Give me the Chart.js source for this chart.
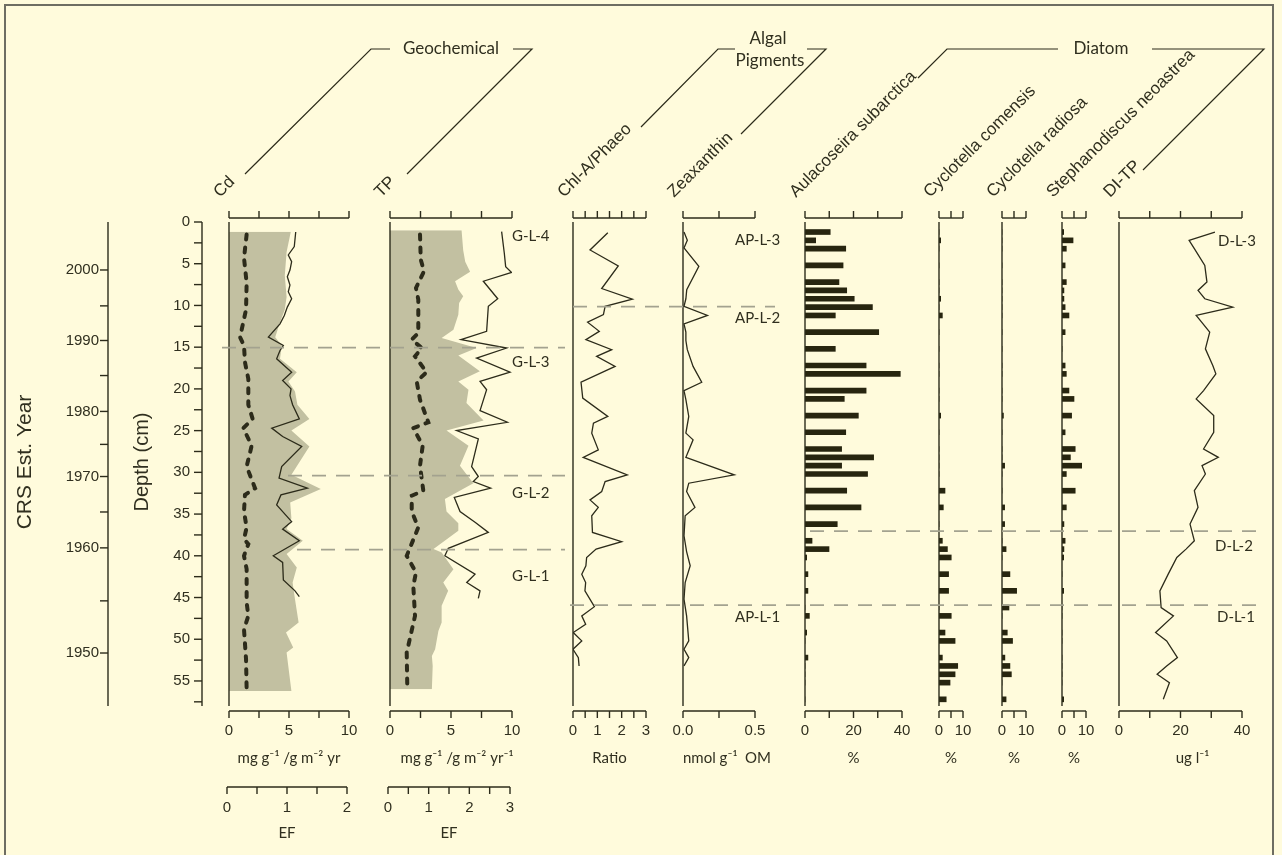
<!DOCTYPE html>
<html>
<head>
<meta charset="utf-8">
<title>Core stratigraphy</title>
<script src="https://cdn.jsdelivr.net/npm/chart.js@4.4.1/dist/chart.umd.min.js"></script>
<style>
  html, body { margin: 0; padding: 0; background: #fffbdc; }
  #page { position: relative; width: 1282px; height: 855px; overflow: hidden; background: #fffbdc; }
  #page canvas { position: absolute; left: 0; top: 0; }
  #border { position: absolute; left: 4px; top: 4px; width: 1270px; height: 880px; border: 2px solid #6e6d62; box-sizing: border-box; }
</style>
</head>
<body>
<div id="page">
  <div id="border"></div>
  <canvas id="cd" width="1282" height="855"></canvas>
  <canvas id="tp" width="1282" height="855"></canvas>
  <canvas id="chl" width="1282" height="855"></canvas>
  <canvas id="zea" width="1282" height="855"></canvas>
  <canvas id="aul" width="1282" height="855"></canvas>
  <canvas id="com" width="1282" height="855"></canvas>
  <canvas id="rad" width="1282" height="855"></canvas>
  <canvas id="ste" width="1282" height="855"></canvas>
  <canvas id="ditp" width="1282" height="855"></canvas>
  <canvas id="frame" width="1282" height="855"></canvas>
</div>
<script>
// ---- depth / age axes ----
const depthTicks = [0, 2.5, 5, 7.5, 10, 12.5, 15, 17.5, 20, 22.5, 25, 27.5, 30, 32.5, 35, 37.5, 40, 42.5, 45, 47.5, 50, 52.5, 55, 57.5];
const depthLabels = [0, 5, 10, 15, 20, 25, 30, 35, 40, 45, 50, 55];
const yearLabels = ['2000', '1990', '1980', '1970', '1960', '1950'];
const yearLabelDepths = [5.75, 14.2, 22.7, 30.5, 39.05, 51.65];
const yearMinorDepths = [10.05, 18.4, 26.65, 34.75, 45.4];

// ---- geochemical ----
const cdDepth = [1.2, 2.95, 3.95, 4.75, 5.76, 6.56, 7.56, 8.36, 9.2, 10.2, 11.2, 12.2, 13.8, 14.8, 15.4, 16.4, 18.0, 19.0, 20.0, 20.8, 21.9, 23.6, 24.7, 25.7, 26.9, 29.3, 30.7, 31.9, 32.7, 33.9, 35.9, 36.8, 38.2, 40.0, 40.8, 42.9, 44.2, 44.9];
const cdConc = [5.56, 5.44, 4.94, 5.22, 5.08, 4.86, 5.08, 4.94, 5.22, 4.86, 4.61, 4.25, 3.28, 4.53, 4.25, 3.97, 5.22, 4.47, 5.17, 5.08, 5.30, 5.86, 3.56, 4.47, 6.06, 4.39, 4.17, 6.53, 4.33, 3.97, 5.22, 4.47, 5.86, 3.69, 4.47, 4.53, 5.50, 5.86];
const cdEfDepth = [1.16, 3.6, 6.4, 9.0, 10.5, 12.0, 13.8, 14.8, 16.4, 18.0, 19.1, 20.3, 21.9, 23.6, 25.0, 26.9, 30.3, 32.0, 33.6, 35.5, 36.8, 38.2, 39.8, 41.4, 43.2, 45.2, 48.0, 49.2, 51.0, 51.6, 56.2];
const cdEf = [1.03, 0.96, 0.93, 0.96, 0.93, 0.85, 0.77, 0.88, 0.85, 1.13, 0.99, 1.10, 1.14, 1.34, 1.04, 1.34, 1.04, 1.53, 1.02, 1.04, 0.96, 1.23, 0.96, 1.13, 1.06, 1.10, 1.16, 0.95, 1.07, 0.96, 1.04];
const cdFluxDepth = [1.5, 4.3, 7.3, 10.5, 13.8, 14.8, 16.8, 18.8, 21.9, 23.6, 24.7, 26.8, 29.3, 31.9, 32.7, 34.7, 36.6, 38.0, 38.6, 40.0, 41.6, 45.6, 47.2, 48.8, 52.4, 56.0];
const cdFlux = [1.47, 1.25, 1.47, 1.42, 0.92, 1.25, 1.33, 1.61, 1.61, 1.97, 1.19, 1.89, 1.47, 2.17, 1.33, 1.25, 1.47, 1.25, 1.61, 1.25, 1.47, 1.47, 1.61, 1.25, 1.42, 1.47];

const tpDepth = [1.16, 3.75, 5.35, 6.05, 7.1, 9.2, 10.1, 13.1, 14.1, 15.1, 16.3, 18.0, 19.1, 20.1, 22.6, 24.0, 25.0, 26.0, 29.3, 30.5, 31.1, 31.9, 33.0, 34.7, 36.0, 37.2, 39.1, 40.0, 42.2, 43.2, 44.2, 45.1];
const tpConc = [9.15, 9.37, 9.48, 9.97, 7.65, 8.83, 8.06, 7.92, 5.82, 9.56, 7.10, 9.84, 7.38, 7.92, 7.38, 9.62, 5.46, 7.24, 6.69, 7.24, 6.83, 8.25, 5.27, 5.74, 7.0, 8.06, 4.78, 4.50, 6.97, 6.29, 7.38, 7.24];
const tpEfDepth = [1.0, 3.4, 4.75, 5.95, 7.1, 8.1, 8.9, 9.7, 11.1, 12.9, 13.9, 15.1, 16.0, 17.9, 19.1, 20.1, 21.7, 23.8, 25.0, 26.8, 29.2, 31.3, 33.2, 34.7, 36.1, 37.0, 39.2, 39.6, 41.6, 43.2, 44.2, 46.0, 48.0, 49.0, 51.2, 52.0, 53.2, 56.0];
const tpEf = [1.76, 1.80, 1.85, 1.97, 1.60, 1.68, 1.80, 1.70, 1.68, 1.56, 1.27, 2.13, 1.68, 2.21, 1.68, 1.93, 1.88, 2.30, 1.39, 1.93, 1.72, 2.05, 1.35, 1.39, 1.68, 1.68, 1.07, 1.27, 1.56, 1.31, 1.43, 1.27, 1.27, 1.19, 1.11, 1.03, 1.05, 1.03];
const tpFluxDepth = [1.5, 4.5, 5.9, 7.9, 9.3, 13.3, 14.1, 15.1, 16.1, 18.0, 19.1, 21.3, 24.0, 24.7, 26.8, 29.2, 32.2, 32.8, 34.7, 36.6, 40.0, 42.0, 43.6, 47.2, 51.6, 56.0];
const tpFlux = [2.46, 2.52, 2.79, 2.13, 2.32, 2.32, 1.78, 2.60, 2.05, 3.00, 2.19, 2.46, 3.14, 1.91, 2.68, 2.46, 2.73, 1.78, 1.78, 2.32, 1.37, 2.13, 1.91, 2.05, 1.37, 1.42];

// ---- algal pigments ----
const chlDepth = [1.28, 3.35, 5.26, 7.97, 9.25, 10.1, 11.1, 12.0, 13.1, 14.1, 15.3, 16.1, 17.3, 19.2, 21.1, 23.3, 24.1, 25.3, 27.3, 28.2, 30.3, 31.1, 32.3, 33.3, 34.2, 35.2, 37.2, 38.3, 39.2, 40.2, 41.2, 42.2, 43.2, 44.2, 46.1, 47.2, 48.2, 49.2, 50.2, 51.2, 52.2, 53.2];
const chlRatio = [1.43, 0.70, 1.86, 1.18, 2.44, 1.32, 1.25, 0.60, 1.08, 0.53, 1.59, 0.97, 1.73, 0.33, 0.40, 1.43, 0.84, 0.77, 1.04, 0.42, 2.23, 1.32, 1.18, 0.70, 1.04, 0.77, 0.80, 2.00, 0.95, 0.56, 0.53, 0.36, 0.52, 0.49, 0.88, 0.36, 0.52, 0.01, 0.36, 0.0, 0.22, 0.25];
const zeaDepth = [1.2, 2.2, 3.1, 5.3, 8.1, 9.2, 10.1, 11.2, 12.2, 13.2, 14.2, 15.3, 17.3, 19.2, 20.2, 21.3, 23.3, 25.3, 26.1, 28.2, 30.3, 31.3, 32.3, 34.2, 35.2, 37.6, 39.5, 41.2, 43.2, 45.2, 47.2, 50.2, 51.2, 52.2, 53.2];
const zeaxanthin = [0.007, 0.03, 0.007, 0.11, 0.026, 0.02, 0.007, 0.17, 0.007, 0.02, 0.02, 0.03, 0.07, 0.13, 0.007, 0.02, 0.04, 0.02, 0.07, 0.02, 0.356, 0.04, 0.025, 0.083, 0.015, 0.007, 0.025, 0.05, 0.015, 0.007, 0.025, 0.04, 0.007, 0.04, 0.007];

// ---- diatoms ----
const diatomDepth = [1.2, 2.2, 3.2, 5.2, 7.2, 8.2, 9.2, 10.2, 11.2, 13.2, 15.2, 17.2, 18.2, 20.2, 21.2, 23.2, 25.2, 27.2, 28.2, 29.2, 30.2, 32.2, 34.2, 36.2, 38.2, 39.2, 40.2, 42.2, 44.2, 46.2, 47.2, 49.2, 50.2, 52.2, 53.2, 54.2, 55.2, 57.2];
const aulacoseira = [10.4, 4.4, 16.8, 15.7, 14.0, 17.2, 20.3, 27.8, 12.5, 30.4, 12.5, 25.2, 39.3, 25.2, 16.2, 22.0, 16.8, 15.1, 28.3, 15.1, 25.8, 17.2, 23.1, 13.3, 2.9, 9.9, 0.7, 1.2, 1.2, 0, 1.8, 0.7, 0, 1.2, 0, 0, 0, 0];
const comensis = [0, 0.7, 0, 0, 0, 0, 0.7, 0, 1.4, 0, 0, 0, 0, 0, 0, 0.7, 0, 0, 0, 0, 0, 2.5, 1.8, 0, 1.4, 3.5, 5.1, 4.0, 4.0, 0, 5.1, 2.5, 6.7, 1.4, 7.8, 6.7, 4.6, 3.0];
const radiosa = [0, 0, 0, 0, 0, 0, 0, 0, 0, 0, 0, 0, 0, 0, 0, 0.6, 0, 0, 0, 1.1, 0, 0, 1.1, 1.1, 0, 1.7, 0, 3.3, 6.1, 2.9, 0, 2.2, 4.4, 1.2, 3.3, 3.9, 0, 1.7];
const stephanodiscus = [0.7, 4.6, 1.8, 1.3, 1.8, 0.8, 0.8, 1.3, 2.9, 1.3, 0, 1.3, 1.8, 2.9, 5.0, 4.0, 1.3, 5.5, 3.5, 8.2, 1.8, 5.5, 1.8, 0.8, 1.3, 0.8, 0.7, 0, 0.7, 0, 0, 0, 0, 0, 0, 0, 0, 0.7];
const diTP = [31.2, 22.8, 24.5, 27.9, 28.6, 25.7, 27.9, 37.0, 25.1, 29.5, 28.1, 30.5, 31.5, 27.5, 25.1, 30.8, 30.8, 27.5, 32.3, 27.0, 28.1, 24.5, 25.7, 23.1, 24.5, 21.8, 18.8, 16.0, 13.3, 13.7, 17.7, 11.9, 15.5, 19.0, 15.5, 12.4, 16.4, 14.4];

// ---- zones ----
const zoneDepths = [15.05, 30.4, 39.25, 10.15, 45.9, 37.05];
const zoneNames = ['G-L-4', 'G-L-3', 'G-L-2', 'G-L-1', 'AP-L-3', 'AP-L-2', 'AP-L-1', 'D-L-3', 'D-L-2', 'D-L-1'];
const zoneNameDepths = [1.7, 16.8, 32.5, 42.5, 2.2, 11.5, 47.3, 2.3, 38.9, 47.3];

// ---- styling / layout ----
const W = 1282, H = 855, DEPTH_MAX = 58, PLOT_TOP = 222, PLOT_BOTTOM = 706;
const INK = '#2c2b1a', TXT = '#302f1f', GREY = '#c2c0a1', ZONE = '#a3a28f', BAR = '#27250f';
const NUM_FONT = '15px "Liberation Sans", Arial, sans-serif';
const SOFT_FONT = '15px Lato, "Liberation Sans", sans-serif';
const NAME_FONT = '17px "Liberation Sans", Arial, sans-serif';
const zoneSpans = [[222, 565], [288, 565], [297, 565], [573, 775], [570, 1262], [810, 1262]];
const zoneNameX = [512, 512, 512, 512, 735, 735, 735, 1218, 1215, 1217];

function pts(depths, values) {
  return depths.map((d, i) => ({ x: values[i], y: d }));
}

function seg(ctx, x1, y1, x2, y2) {
  ctx.beginPath();
  ctx.moveTo(x1, y1);
  ctx.lineTo(x2, y2);
  ctx.stroke();
}

// axes of one panel: top/bottom scale bars, numbers, unit, rotated name, optional EF bar
function stratAxes(spec) {
  return {
    id: 'stratAxes',
    afterDraw(chart) {
      const ctx = chart.ctx, xs = chart.scales.x, ys = chart.scales.y;
      const left = xs.getPixelForValue(spec.min), right = xs.getPixelForValue(spec.max);
      ctx.save();
      ctx.strokeStyle = INK;
      ctx.fillStyle = TXT;
      ctx.lineWidth = 1.4;
      seg(ctx, left, ys.getPixelForValue(0), left, ys.getPixelForValue(DEPTH_MAX));

      const yt = ys.top - 4;
      seg(ctx, left, yt, right, yt);
      spec.ticks.forEach(v => { const p = xs.getPixelForValue(v); seg(ctx, p, yt, p, yt - 7); });

      const yb = ys.bottom + 5;
      seg(ctx, left, yb, right, yb);
      spec.ticks.forEach(v => { const p = xs.getPixelForValue(v); seg(ctx, p, yb, p, yb + 7); });
      ctx.font = NUM_FONT;
      ctx.textAlign = 'center';
      ctx.textBaseline = 'middle';
      spec.labels.forEach((v, i) => {
        ctx.fillText(spec.labelText ? spec.labelText[i] : String(v), xs.getPixelForValue(v), yb + 20);
      });
      ctx.font = SOFT_FONT;
      ctx.fillText(spec.unit, (left + right) / 2 + (spec.unitShift || 0), yb + 47);

      if (spec.ef) {
        const es = chart.scales.xEF;
        const ye = yb + 76;
        const e0 = es.getPixelForValue(0) - 2, e1 = es.getPixelForValue(spec.ef.max) - 2;
        seg(ctx, e0, ye, e1, ye);
        spec.ef.ticks.forEach(v => { const p = es.getPixelForValue(v) - 2; seg(ctx, p, ye, p, ye + 7); });
        ctx.font = NUM_FONT;
        spec.ef.labels.forEach(v => ctx.fillText(String(v), es.getPixelForValue(v) - 2, ye + 21));
        ctx.font = SOFT_FONT;
        ctx.fillText('EF', (e0 + e1) / 2, ye + 46);
      }

      ctx.translate(left - 9, 198);
      ctx.rotate(-Math.PI / 4);
      ctx.font = NAME_FONT;
      ctx.textAlign = 'left';
      ctx.textBaseline = 'alphabetic';
      ctx.fillText(spec.name, 0, 0);
      ctx.restore();
    }
  };
}

function makePanel(id, type, spec, datasets) {
  const scales = {
    x: { type: 'linear', min: spec.min, max: spec.max, display: false },
    y: { type: 'linear', min: 0, max: DEPTH_MAX, reverse: true, offset: false, display: false }
  };
  if (spec.ef) {
    scales.xEF = { type: 'linear', axis: 'x', min: 0, max: spec.ef.max, display: false };
  }
  return new Chart(document.getElementById(id), {
    type: type,
    data: { datasets: datasets },
    options: {
      responsive: false,
      animation: false,
      events: [],
      devicePixelRatio: 1,
      indexAxis: 'y',
      layout: { padding: { left: spec.x0, right: W - spec.x1, top: PLOT_TOP, bottom: H - PLOT_BOTTOM } },
      elements: { point: { radius: 0 }, line: { tension: 0 } },
      plugins: { legend: { display: false }, tooltip: { enabled: false } },
      scales: scales
    },
    plugins: [stratAxes(spec)]
  });
}

function solid(depths, values) {
  return { data: pts(depths, values), borderColor: INK, borderWidth: 1.3, fill: false, order: 1 };
}
function dashed(depths, values) {
  return { data: pts(depths, values), borderColor: INK, borderWidth: 4, borderDash: [5, 8],
           borderCapStyle: 'round', fill: false, order: 0 };
}
function shade(depths, values) {
  return { data: pts(depths, values), xAxisID: 'xEF', borderWidth: 0, borderColor: GREY,
           backgroundColor: GREY, fill: 'origin', order: 2 };
}
function bars(values) {
  return { data: pts(diatomDepth, values), backgroundColor: BAR, barThickness: 5, borderWidth: 0 };
}

makePanel('cd', 'line', {
  name: 'Cd', x0: 229, x1: 349, min: 0, max: 10, ticks: [0, 2.5, 5, 7.5, 10], labels: [0, 5, 10],
  unit: 'mg g⁻¹ /g m⁻² yr', ef: { max: 2, ticks: [0, 0.5, 1, 1.5, 2], labels: [0, 1, 2] }
}, [shade(cdEfDepth, cdEf), solid(cdDepth, cdConc), dashed(cdFluxDepth, cdFlux)]);

makePanel('tp', 'line', {
  name: 'TP', x0: 390, x1: 512, min: 0, max: 10, ticks: [0, 2.5, 5, 7.5, 10], labels: [0, 5, 10],
  unit: 'mg g⁻¹ /g m⁻² yr⁻¹', unitShift: 6, ef: { max: 3, ticks: [0, 0.5, 1, 1.5, 2, 2.5, 3], labels: [0, 1, 2, 3] }
}, [shade(tpEfDepth, tpEf), solid(tpDepth, tpConc), dashed(tpFluxDepth, tpFlux)]);

makePanel('chl', 'line', {
  name: 'Chl-A/Phaeo', x0: 573, x1: 646, min: 0, max: 3, ticks: [0, 0.5, 1, 1.5, 2, 2.5, 3], labels: [0, 1, 2, 3],
  unit: 'Ratio'
}, [solid(chlDepth, chlRatio)]);

makePanel('zea', 'line', {
  name: 'Zeaxanthin', x0: 683, x1: 755, min: 0, max: 0.5, ticks: [0, 0.25, 0.5], labels: [0, 0.5],
  labelText: ['0.0', '0.5'], unit: 'nmol g⁻¹  OM', unitShift: 8
}, [solid(zeaDepth, zeaxanthin)]);

makePanel('aul', 'bar', {
  name: 'Aulacoseira subarctica', x0: 805, x1: 902, min: 0, max: 40, ticks: [0, 10, 20, 30, 40], labels: [0, 20, 40],
  unit: '%'
}, [bars(aulacoseira)]);

makePanel('com', 'bar', {
  name: 'Cyclotella comensis', x0: 939, x1: 963, min: 0, max: 10, ticks: [0, 5, 10], labels: [0, 10], unit: '%'
}, [bars(comensis)]);

makePanel('rad', 'bar', {
  name: 'Cyclotella radiosa', x0: 1002, x1: 1026, min: 0, max: 10, ticks: [0, 5, 10], labels: [0, 10], unit: '%'
}, [bars(radiosa)]);

makePanel('ste', 'bar', {
  name: 'Stephanodiscus neoastrea', x0: 1062, x1: 1086, min: 0, max: 10, ticks: [0, 5, 10], labels: [0, 10], unit: '%'
}, [bars(stephanodiscus)]);

makePanel('ditp', 'line', {
  name: 'DI-TP', x0: 1119, x1: 1242, min: 0, max: 40, ticks: [0, 10, 20, 30, 40], labels: [0, 20, 40],
  unit: 'ug l⁻¹', unitShift: 12
}, [solid(diatomDepth, diTP)]);

// frame: depth + CRS year axes, group headers, zone boundaries
const framePlugin = {
  id: 'frameDecor',
  afterDraw(chart) {
    const ctx = chart.ctx, ys = chart.scales.y;
    ctx.save();
    ctx.strokeStyle = INK;
    ctx.fillStyle = TXT;
    ctx.lineWidth = 1.4;

    // depth axis
    const dx = 202;
    seg(ctx, dx, ys.getPixelForValue(0), dx, ys.getPixelForValue(DEPTH_MAX));
    depthTicks.forEach(d => { const p = ys.getPixelForValue(d); seg(ctx, dx - 8, p, dx, p); });
    ctx.font = NUM_FONT;
    ctx.textAlign = 'right';
    ctx.textBaseline = 'middle';
    depthLabels.forEach(d => ctx.fillText(String(d), dx - 12, ys.getPixelForValue(d)));

    // CRS year axis
    const yx = 108;
    seg(ctx, yx, ys.getPixelForValue(0), yx, ys.getPixelForValue(DEPTH_MAX));
    yearLabelDepths.forEach((d, i) => {
      const p = ys.getPixelForValue(d);
      seg(ctx, yx - 8, p, yx, p);
      ctx.fillText(yearLabels[i], yx - 9, p);
    });
    yearMinorDepths.forEach(d => { const p = ys.getPixelForValue(d); seg(ctx, yx - 8, p, yx, p); });

    // axis titles
    ctx.textAlign = 'center';
    ctx.save();
    ctx.translate(25, 462);
    ctx.rotate(-Math.PI / 2);
    ctx.font = '21px "Liberation Sans", Arial, sans-serif';
    ctx.fillText('CRS Est. Year', 0, 0);
    ctx.restore();
    ctx.save();
    ctx.translate(142, 462);
    ctx.rotate(-Math.PI / 2);
    ctx.font = '20px "Liberation Sans", Arial, sans-serif';
    ctx.fillText('Depth (cm)', 0, 0);
    ctx.restore();

    // group headers
    ctx.font = '17px Lato, "Liberation Sans", sans-serif';
    ctx.fillText('Geochemical', 451, 49);
    ctx.fillText('Algal', 768, 39);
    ctx.fillText('Pigments', 770, 61);
    ctx.fillText('Diatom', 1101, 49);
    ctx.lineWidth = 1.2;
    const brackets = [
      [[245, 174], [371, 49], [390, 49]],
      [[513, 49], [532, 49], [407, 174]],
      [[641, 127], [718, 49], [735, 49]],
      [[807, 49], [826, 49], [741, 134]],
      [[918, 78], [947, 49], [1058, 49]],
      [[1152, 49], [1264, 49], [1143, 170]]
    ];
    brackets.forEach(b => {
      ctx.beginPath();
      ctx.moveTo(b[0][0], b[0][1]);
      for (let i = 1; i < b.length; i++) ctx.lineTo(b[i][0], b[i][1]);
      ctx.stroke();
    });

    // zone boundaries
    ctx.strokeStyle = ZONE;
    ctx.lineWidth = 1.7;
    ctx.setLineDash([14, 10]);
    zoneDepths.forEach((d, i) => {
      const p = ys.getPixelForValue(d);
      seg(ctx, zoneSpans[i][0], p, zoneSpans[i][1], p);
    });
    ctx.setLineDash([]);

    ctx.font = SOFT_FONT;
    ctx.textAlign = 'left';
    ctx.fillStyle = TXT;
    zoneNames.forEach((n, i) => ctx.fillText(n, zoneNameX[i], ys.getPixelForValue(zoneNameDepths[i])));
    ctx.restore();
  }
};

new Chart(document.getElementById('frame'), {
  type: 'line',
  data: { datasets: [] },
  options: {
    responsive: false,
    animation: false,
    events: [],
    devicePixelRatio: 1,
    layout: { padding: { left: 0, right: 0, top: PLOT_TOP, bottom: H - PLOT_BOTTOM } },
    plugins: { legend: { display: false }, tooltip: { enabled: false } },
    scales: {
      x: { type: 'linear', min: 0, max: 1, display: false },
      y: { type: 'linear', min: 0, max: DEPTH_MAX, reverse: true, display: false }
    }
  },
  plugins: [framePlugin]
});
</script>
</body>
</html>
